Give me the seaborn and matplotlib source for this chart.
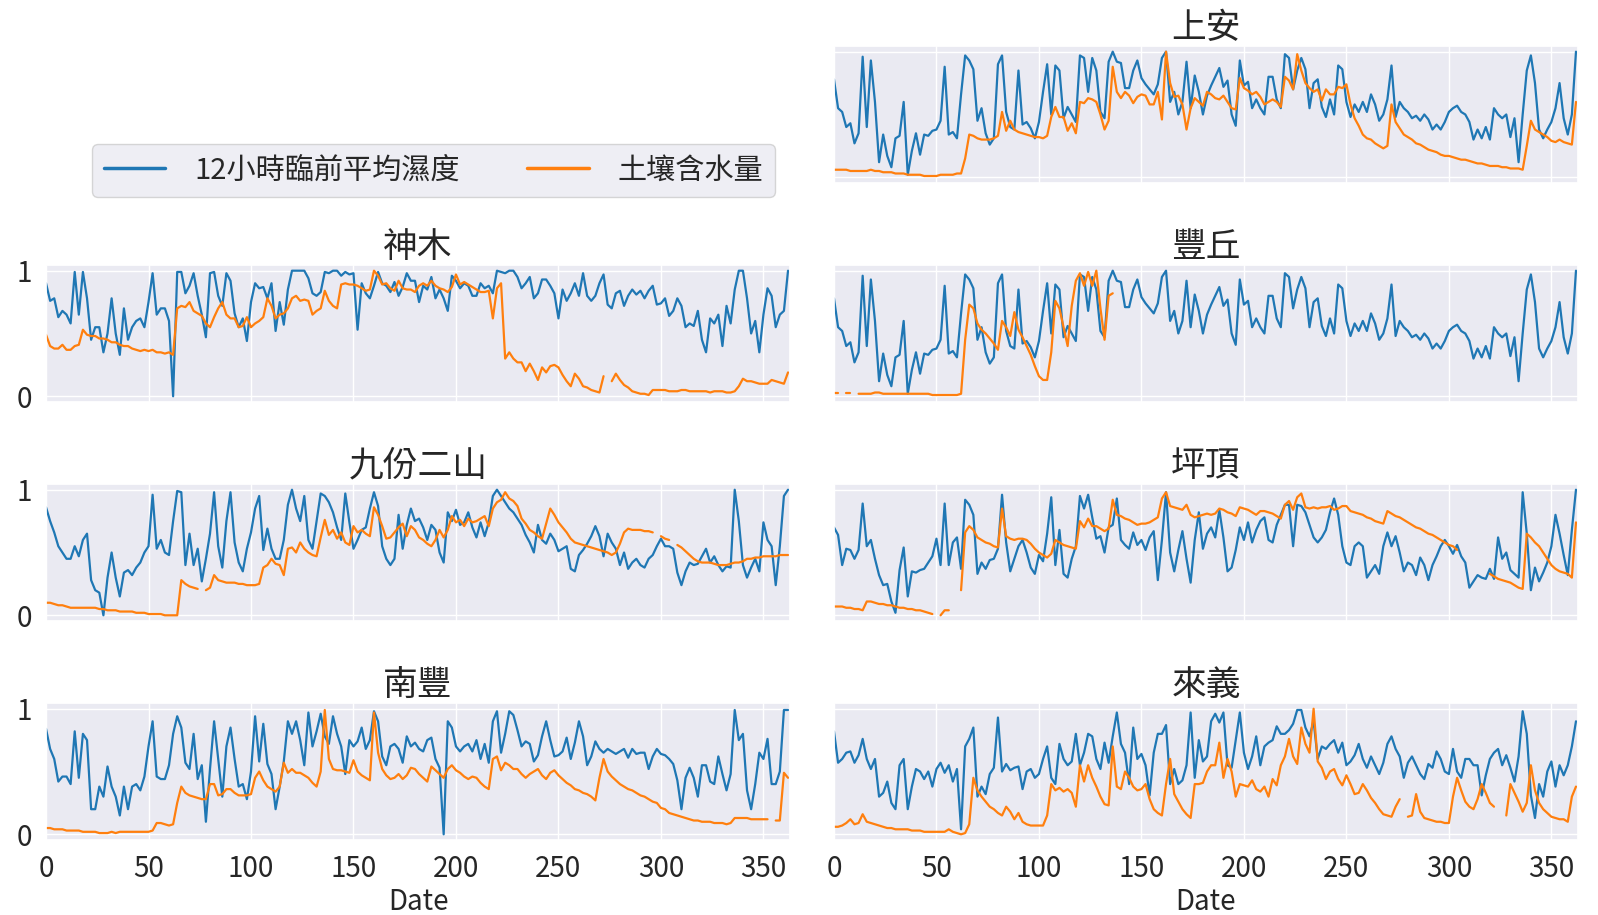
import numpy as np
import matplotlib
matplotlib.use("Agg")
import matplotlib.pyplot as plt
from matplotlib.lines import Line2D
import seaborn as sns

# Daily readings sampled every second day (day 0, 2, 4, ... 362), values in percent.
DAY_STEP = 2

humid_shangan = [
    78, 55, 52, 40, 43, 27, 35, 96, 40, 93,
    60, 12, 34, 17, 8, 31, 33, 60, 2, 21,
    35, 18, 34, 33, 37, 38, 45, 88, 34, 36,
    31, 66, 97, 93, 86, 45, 55, 35, 26, 31,
    90, 97, 52, 40, 38, 85, 42, 44, 39, 31,
    44, 68, 90, 50, 89, 85, 47, 56, 50, 44,
    97, 95, 68, 95, 85, 52, 47, 92, 100, 92,
    91, 71, 71, 85, 93, 79, 74, 70, 66, 74,
    95, 100, 60, 68, 50, 60, 92, 55, 81, 68,
    50, 65, 73, 80, 87, 72, 77, 50, 41, 93,
    73, 76, 55, 62, 55, 50, 80, 80, 62, 55,
    98, 95, 70, 85, 95, 86, 55, 75, 78, 56,
    48, 62, 50, 89, 86, 60, 48, 58, 52, 60,
    52, 66, 58, 45, 50, 62, 89, 48, 60, 55,
    52, 47, 49, 45, 50, 46, 38, 42, 38, 44,
    52, 55, 57, 52, 50, 44, 30, 38, 31, 40,
    30, 55, 50, 47, 50, 32, 47, 12, 50, 85,
    97, 75, 38, 31, 38, 44, 55, 75, 47, 34,
    50, 100,
]
soil_shangan = [
    6, 6, 6, 6, 5, 5, 5, 5, 5, 6,
    5, 5, 4, 4, 4, 3, 3, 3, 2, 2,
    2, 2, 1, 1, 1, 1, 2, 2, 2, 2,
    3, 3, 15, 34, 33, 31, 30, 30, 30, 31,
    33, 52, 37, 45, 38, 36, 35, 34, 33, 32,
    32, 31, 33, 48, 56, 48, 48, 37, 43, 35,
    60, 59, 63, 62, 60, 50, 38, 45, 88, 68,
    63, 68, 65, 59, 64, 66, 65, 58, 58, 68,
    46, 100, 75, 64, 65, 58, 38, 55, 63, 60,
    57, 68, 66, 63, 62, 65, 60, 55, 54, 79,
    71, 69, 66, 68, 64, 58, 60, 62, 60, 56,
    80, 77, 70, 98, 85, 75, 71, 68, 70, 61,
    70, 66, 66, 72, 71, 74, 58, 47, 41, 34,
    31, 30, 27, 25, 23, 25, 58, 44, 39, 34,
    32, 30, 27, 26, 24, 22, 21, 20, 18, 17,
    17, 16, 15, 14, 14, 13, 12, 11, 11, 10,
    9, 9, 9, 8, 8, 7, 7, 7, 6, 25,
    45, 38, 36, 34, 32, 29, 28, 30, 28, 27,
    26, 60,
]

humid_fengqiu = humid_shangan
soil_fengqiu = [
    3, 3, None, 3, 3, None, 2, 2, 2, 2,
    3, 3, 2, 2, 2, 2, 2, 2, 2, 2,
    2, 2, 2, 2, 1, 1, 1, 1, 1, 1,
    1, 2, 45, 73, 70, 58, 53, 50, 46, 42,
    37, 60, 55, 48, 67, 53, 47, 40, 33, 24,
    16, 13, 13, 35, 76, 70, 55, 40, 72, 92,
    98, 88, 99, 88, 100, 70, 45, 80, 82,
] + [None] * 113

humid_pingding = [
    70, 64, 40, 53, 52, 45, 52, 89, 55, 60,
    45, 32, 24, 25, 11, 2, 36, 54, 15, 35,
    34, 36, 37, 42, 47, 61, 40, 89, 40, 58,
    62, 37, 92, 88, 80, 33, 42, 37, 44, 45,
    53, 96, 58, 35, 45, 55, 60, 50, 38, 33,
    48, 43, 65, 94, 40, 68, 33, 30, 45, 55,
    95, 85, 96, 78, 61, 63, 50, 70, 72, 93,
    60, 56, 53, 66, 56, 60, 52, 62, 67, 28,
    60, 98, 50, 35, 52, 67, 45, 26, 60, 82,
    53, 65, 70, 62, 84, 62, 35, 38, 52, 70,
    60, 74, 58, 68, 75, 78, 60, 58, 72, 80,
    88, 88, 55, 88, 87, 82, 72, 62, 58, 62,
    68, 82, 93, 80, 55, 42, 40, 55, 58, 55,
    30, 35, 40, 33, 55, 66, 55, 63, 50, 35,
    42, 40, 32, 46, 40, 28, 40, 47, 55, 60,
    55, 49, 56, 47, 42, 22, 27, 32, 30, 29,
    37, 29, 62, 45, 50, 36, 33, 30, 98, 65,
    20, 38, 27, 34, 42, 55, 80, 65, 48, 32,
    68, 100,
]
soil_pingding = [
    7, 7, 7, 6, 6, 5, 5, 4, 11, 11,
    10, 9, 9, 8, 8, 7, 6, 6, 5, 5,
    4, 4, 3, 2, 1, None, 0, 4, 4, None,
    None, 20, 66, 71, 68, 62, 60, 58, 57, 55,
    54, 85, 63, 61, 60, 61, 61, 60, 57, 53,
    50, 48, 46, 49, 60, 58, 56, 55, 54, 53,
    75, 70, 77, 71, 71, 69, 67, 69, 92, 80,
    79, 77, 76, 74, 72, 73, 73, 74, 76, 78,
    93, 98, 87, 86, 85, 84, 88, 80, 78, 79,
    80, 81, 80, 81, 85, 84, 82, 81, 79, 86,
    85, 84, 82, 80, 83, 83, 82, 81, 79, 77,
    88, 91, 84, 94, 97, 86, 85, 86, 85, 86,
    86, 87, 84, 85, 87, 87, 83, 82, 81, 80,
    78, 77, 75, 74, 73, 83, 81, 79, 78, 76,
    74, 72, 70, 69, 67, 65, 64, 62, 60, 58,
    56, 55, 52, None, None, None, None, None, None, None,
    33, 31, 29, 28, 27, 26, 24, 22, 21, 65,
    62, 58, 55, 50, 45, 40, 37, 35, 34, 33,
    30, 74,
]

humid_laiyi = [
    82, 57, 60, 65, 66, 57, 63, 76, 60, 52,
    60, 30, 33, 42, 25, 20, 55, 60, 20, 38,
    52, 50, 44, 50, 38, 52, 57, 49, 55, 42,
    52, 4, 70, 76, 85, 30, 38, 32, 48, 53,
    93, 50, 56, 51, 53, 54, 36, 50, 52, 45,
    48, 60, 70, 45, 40, 72, 60, 55, 58, 80,
    55, 65, 80, 78, 60, 52, 73, 57, 78, 97,
    72, 65, 40, 85, 60, 64, 55, 31, 65, 80,
    80, 87, 40, 52, 40, 43, 55, 97, 45, 75,
    58, 62, 90, 96, 89, 97, 55, 53, 75, 97,
    65, 52, 62, 78, 55, 70, 73, 75, 86, 80,
    80, 83, 88, 99, 99, 85, 78, 90, 60, 70,
    68, 72, 75, 65, 73, 55, 58, 63, 72, 60,
    53, 62, 55, 48, 57, 72, 78, 68, 62, 45,
    57, 62, 55, 48, 44, 56, 53, 66, 60, 50,
    48, 68, 50, 45, 60, 60, 55, 55, 31, 47,
    60, 65, 68, 55, 63, 53, 42, 62, 98, 80,
    31, 13, 40, 30, 50, 58, 38, 55, 47, 55,
    70, 90,
]
soil_laiyi = [
    6, 6, 7, 9, 12, 8, 9, 16, 10, 9,
    8, 7, 6, 5, 5, 4, 4, 4, 4, 3,
    3, 3, 2, 2, 2, 2, 2, 2, 4, 2,
    1, 0, 1, 8, 45, 35, 30, 26, 22, 20,
    17, 15, 22, 18, 12, 17, 10, 8, 7, 7,
    7, 7, 15, 40, 35, 37, 34, 36, 33, 22,
    55, 42, 55, 45, 38, 30, 24, 23, 70, 38,
    36, 50, 45, 38, 35, 36, 40, 28, 20, 17,
    15, 40, 60, 32, 26, 20, 16, 13, 40, 40,
    41, 50, 55, 55, 73, 45, 60, 50, 30, 40,
    39, 38, 43, 36, 34, 38, 30, 44, 39, 55,
    62, 76, 62, 56, 85, 72, 65, 100, 58, 53,
    44, 50, 52, 44, 39, 47, 40, 32, 33, 40,
    35, 29, 25, 20, 16, 15, 14, 22, 28, None,
    14, 15, 32, 18, 13, 12, 11, 10, 10, 9,
    9, 30, 45, 35, 26, 22, 20, 28, 40, 33,
    25, 22, None, None, 15, 40, 33, 26, 18, 25,
    55, 35, 25, 20, 17, 14, 13, 12, 12, 10,
    30, 38,
]

humid_shenmu = [
    90, 76, 78, 63, 68, 65, 58, 99, 65, 99,
    78, 45, 55, 55, 35, 50, 78, 50, 33, 70,
    45, 55, 60, 62, 55, 75, 98, 65, 70, 70,
    60, 0, 99, 99, 82, 88, 98, 80, 65, 47,
    98, 99, 80, 72, 98, 92, 66, 55, 62, 44,
    75, 90, 86, 87, 78, 90, 52, 75, 57, 85,
    100, 100, 100, 100, 94, 82, 80, 83, 99, 98,
    100, 100, 96, 99, 97, 98, 53, 90, 82, 78,
    88, 99, 90, 88, 83, 91, 80, 87, 98, 92,
    92, 75, 88, 85, 95, 78, 85, 78, 68, 96,
    92, 86, 90, 88, 80, 80, 90, 86, 88, 82,
    100, 99, 98, 100, 100, 95, 86, 90, 95, 78,
    82, 93, 93, 88, 82, 62, 85, 76, 82, 90,
    80, 98, 80, 76, 80, 90, 97, 73, 70, 82,
    84, 72, 80, 85, 81, 84, 78, 84, 88, 73,
    74, 78, 64, 68, 78, 72, 55, 58, 56, 68,
    45, 35, 62, 58, 65, 40, 72, 58, 85, 100,
    100, 78, 50, 60, 35, 65, 86, 80, 55, 65,
    68, 100,
]
soil_shenmu = [
    49, 40, 38, 38, 41, 37, 37, 40, 41, 53,
    49, 48, 48, 46, 46, 45, 43, 43, 41, 40,
    40, 38, 37, 36, 37, 36, 37, 35, 35, 34,
    35, 33, 70, 72, 71, 75, 68, 66, 64, 58,
    55, 63, 70, 75, 65, 62, 62, 55, 56, 63,
    55, 58, 60, 63, 78, 72, 62, 65, 66, 70,
    78, 80, 76, 77, 76, 65, 68, 70, 84, 76,
    72, 70, 89, 90, 89, 89, 88, 86, 84, 85,
    100, 96, 89, 90, 86, 84, 92, 86, 85, 85,
    83, 88, 90, 88, 92, 88, 86, 85, 83, 87,
    97, 89, 91, 89, 87, 85, 83, 83, 84, 62,
    86, 90, 30, 35, 30, 27, 27, 20, 26, 20,
    13, 23, 19, 24, 25, 23, 17, 12, 8, 18,
    14, 8, 7, 5, 4, 3, 16, None, 12, 18,
    13, 9, 7, 4, 3, 2, 2, 1, 5, 5,
    5, 5, 4, 4, 4, 5, 5, 4, 4, 4,
    4, 4, 3, 4, 4, 4, 3, 3, 4, 8,
    14, 12, 12, 11, 10, 10, 10, 13, 12, 11,
    10, 19,
]

humid_jiufen = [
    86, 75, 66, 55, 50, 45, 45, 55, 47, 60,
    65, 28, 20, 18, 0, 30, 50, 30, 15, 34,
    36, 32, 38, 42, 50, 55, 96, 53, 60, 50,
    48, 75, 99, 98, 40, 65, 40, 53, 27, 45,
    65, 98, 55, 38, 75, 98, 58, 42, 35, 53,
    66, 85, 95, 52, 69, 53, 45, 45, 60, 88,
    100, 85, 75, 95, 60, 53, 75, 97, 95, 90,
    82, 70, 60, 97, 74, 53, 60, 68, 70, 85,
    98, 87, 55, 45, 40, 45, 80, 53, 72, 85,
    75, 77, 70, 60, 72, 68, 50, 42, 82, 75,
    84, 72, 74, 82, 70, 62, 74, 63, 74, 95,
    100, 95, 90, 85, 82, 77, 72, 64, 58, 50,
    72, 60, 57, 65, 60, 51, 53, 55, 37, 35,
    48, 52, 57, 63, 71, 63, 47, 65, 58, 53,
    40, 50, 37, 42, 45, 40, 38, 45, 48, 55,
    61, 55, 55, 53, 34, 24, 35, 42, 40, 41,
    47, 53, 42, 47, 40, 35, 39, 38, 100, 75,
    40, 30, 38, 45, 35, 74, 60, 55, 24, 55,
    95, 100,
]
soil_jiufen = [
    10, 10, 9, 8, 8, 7, 6, 6, 6, 6,
    6, 6, 6, 5, 5, 4, 4, 4, 3, 3,
    3, 3, 2, 2, 2, 1, 1, 1, 1, 0,
    0, 0, 0, 28, 25, 23, 22, 21, None, 20,
    22, 32, 28, 27, 26, 26, 26, 25, 25, 24,
    24, 24, 25, 38, 40, 45, 41, 40, 32, 53,
    54, 50, 58, 53, 50, 48, 47, 62, 76, 64,
    68, 61, 66, 58, 56, 71, 66, 68, 65, 63,
    86, 80, 71, 61, 62, 66, 70, 73, 63, 71,
    68, 62, 60, 57, 55, 60, 68, 62, 68, 79,
    74, 76, 71, 77, 74, 75, 77, 79, 71, 85,
    90, 92, 98, 93, 91, 87, 77, 73, 68, 66,
    63, 61, 73, 85, 80, 74, 70, 66, 61, 58,
    57, 56, 55, 54, 53, 52, 51, 50, 48, 50,
    57, 66, 69, 68, 68, 68, 67, 67, 66, None,
    63, 61, 60, None, 56, 54, 51, 48, 45, 43,
    42, 42, 42, 41, 40, 40, 40, 41, 42, 42,
    43, 45, 45, 46, 46, 47, 47, 47, 47, 48,
    48, 48,
]

humid_nanfeng = [
    84, 68, 60, 42, 46, 46, 40, 82, 45, 80,
    75, 20, 20, 38, 30, 54, 38, 30, 15, 38,
    20, 38, 40, 35, 46, 70, 90, 46, 44, 44,
    55, 80, 94, 85, 57, 52, 80, 44, 55, 10,
    52, 90, 60, 30, 70, 85, 60, 38, 40, 28,
    50, 94, 58, 88, 56, 48, 20, 38, 58, 90,
    80, 90, 75, 55, 97, 70, 82, 96, 78, 72,
    94, 80, 70, 48, 75, 70, 74, 85, 68, 75,
    98, 90, 62, 55, 70, 72, 68, 57, 78, 70,
    73, 68, 66, 75, 77, 60, 53, 0, 90, 85,
    70, 66, 70, 72, 66, 75, 60, 72, 57, 90,
    98, 65, 80, 98, 95, 83, 70, 74, 72, 58,
    63, 78, 90, 75, 62, 63, 66, 77, 60, 73,
    90, 78, 55, 62, 74, 68, 65, 68, 66, 64,
    66, 68, 61, 68, 64, 65, 65, 52, 62, 68,
    64, 63, 60, 56, 43, 20, 45, 53, 45, 30,
    55, 55, 42, 40, 62, 48, 35, 48, 99, 75,
    80, 35, 20, 40, 65, 60, 76, 40, 40, 50,
    99, 99,
]
soil_nanfeng = [
    5, 5, 4, 4, 4, 3, 3, 3, 3, 2,
    2, 2, 2, 1, 1, 1, 2, 1, 2, 2,
    2, 2, 2, 2, 2, 2, 3, 9, 9, 8,
    7, 8, 25, 38, 33, 31, 30, 29, 28, 28,
    40, 40, 31, 32, 36, 36, 33, 31, 31, 31,
    32, 45, 50, 43, 38, 36, 34, 38, 57, 49,
    52, 49, 49, 47, 45, 41, 38, 50, 99, 60,
    52, 51, 51, 50, 49, 59, 50, 47, 45, 43,
    97, 65, 52, 47, 44, 45, 48, 44, 47, 53,
    52, 48, 45, 42, 54, 51, 48, 45, 52, 55,
    51, 49, 46, 44, 46, 45, 41, 38, 36, 60,
    62, 51, 57, 55, 52, 52, 48, 45, 48, 50,
    52, 47, 44, 49, 51, 47, 44, 41, 39, 36,
    35, 33, 32, 30, 27, 45, 60, 50, 46, 43,
    40, 38, 36, 35, 33, 31, 30, 28, 26, 25,
    21, 20, 17, 16, 15, 14, 13, 12, 11, 11,
    10, 10, 10, 9, 9, 9, 8, 9, 13, 13,
    13, 13, 12, 12, 12, 12, 12, None, 11, 11,
    49, 45,
]

# (row, column, station name, humidity series, soil moisture series)
panels = [
    (0, 1, "上安", humid_shangan, soil_shangan),
    (1, 0, "神木", humid_shenmu, soil_shenmu),
    (1, 1, "豐丘", humid_fengqiu, soil_fengqiu),
    (2, 0, "九份二山", humid_jiufen, soil_jiufen),
    (2, 1, "坪頂", humid_pingding, soil_pingding),
    (3, 0, "南豐", humid_nanfeng, soil_nanfeng),
    (3, 1, "來義", humid_laiyi, soil_laiyi),
]

series_labels = ["12小時臨前平均濕度", "土壤含水量"]
series_colors = ["#1f77b4", "#ff7f0e"]
x_ticks = [0, 50, 100, 150, 200, 250, 300, 350]
y_ticks = [0, 1]

sns.set_theme(style="darkgrid")
plt.rcParams["font.family"] = ["Noto Sans CJK TC", "DejaVu Sans"]
plt.rcParams["axes.unicode_minus"] = False

fig, axes = plt.subplots(4, 2, figsize=(15.98, 9.15), dpi=100,
                         sharex=True, sharey=True)
fig.subplots_adjust(left=0.0288, right=0.9875, top=0.9497, bottom=0.082,
                    hspace=0.60, wspace=0.059)


def draw_series(ax, values, color):
    """Draw one series, leaving gaps where readings are missing."""
    y = np.array(values, dtype=float) / 100.0
    x = np.arange(len(y)) * DAY_STEP
    valid = np.flatnonzero(~np.isnan(y))
    if valid.size == 0:
        return
    runs = np.split(valid, np.where(np.diff(valid) > 1)[0] + 1)
    for run in runs:
        if run.size < 2:
            continue
        sns.lineplot(x=x[run], y=y[run], ax=ax, color=color,
                     linewidth=1.6, legend=False)


axes[0, 0].axis("off")

for row, col, name, humid, soil in panels:
    ax = axes[row, col]
    draw_series(ax, humid, series_colors[0])
    draw_series(ax, soil, series_colors[1])
    ax.set_title(name, fontsize=25, pad=6)
    ax.set_xlim(0, 363)
    ax.set_ylim(-0.045, 1.045)
    ax.set_xticks(x_ticks)
    ax.set_yticks(y_ticks)
    ax.set_ylabel("")
    ax.set_xlabel("Date" if row == 3 else "", fontsize=20, labelpad=2)
    ax.tick_params(axis="both", labelsize=20, pad=4)

handles = [Line2D([0], [0], color=c, linewidth=2.5) for c in series_colors]
fig.legend(handles, series_labels, loc="lower left",
           bbox_to_anchor=(92 / 1598, 1 - 197 / 915, 683 / 1598, 51 / 915),
           mode="expand", ncol=2, fontsize=21, handlelength=2.1,
           handletextpad=1.0, borderaxespad=0.0, frameon=True)

fig.savefig("out.png", dpi=100)
